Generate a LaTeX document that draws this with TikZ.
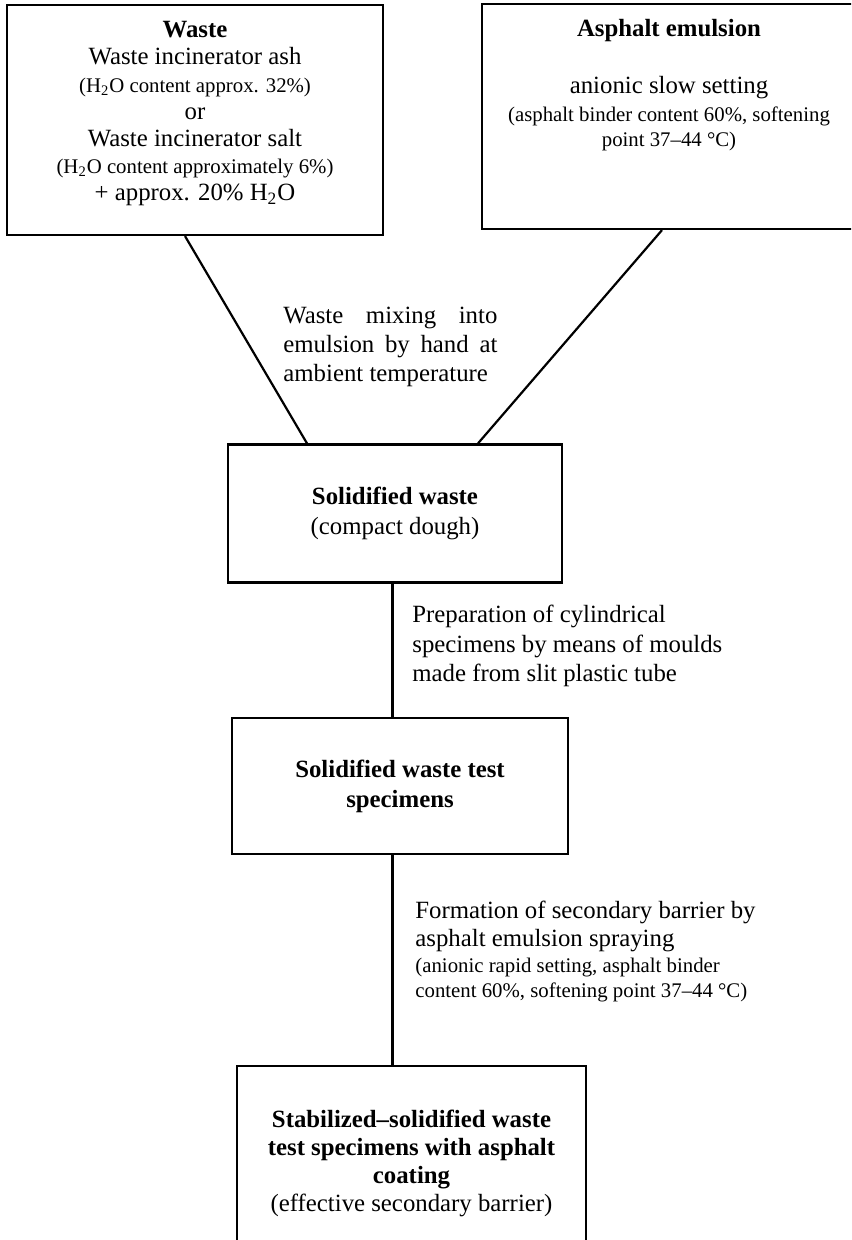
\documentclass[tikz,border=0pt]{standalone}
\usepackage{fontspec}
\setmainfont{Liberation Serif}
\newcommand{\notesize}{\fontsize{10.4pt}{12.5pt}\selectfont}
\newcommand{\water}{H\textsubscript{2}O}

\begin{document}
\begin{tikzpicture}[
    x=0.5pt, y=-0.5pt,
    box/.style={rectangle, draw, line width=1.1pt, inner sep=0pt, align=center},
    boxtext/.style={inner sep=0pt, align=center, anchor=north},
    note/.style={inner sep=0pt, align=left, anchor=north west},
    link/.style={line width=1.1pt}
  ]
  \useasboundingbox (0,0) rectangle (851,1240);
  \clip (0,0) rectangle (851,1240);

  \node[box, minimum width=188pt, minimum height=115pt] (waste) at (195,120) {};
  \node[box, minimum width=187pt, minimum height=112.5pt] (asphalt) at (669,116.5) {};
  \node[box, minimum width=167pt, minimum height=69pt, font={\fontsize{12.4pt}{15pt}\selectfont}] (solid) at (395,513.5)
    {\textbf{Solidified waste}\\(compact dough)};
  \node[box, minimum width=168pt, minimum height=68pt, font={\fontsize{12.4pt}{15pt}\selectfont}] (specimens) at (400,786)
    {\textbf{Solidified waste test}\\\textbf{specimens}};
  \node[box, minimum width=174.5pt, minimum height=97pt, font={\fontsize{12.4pt}{14pt}\selectfont}] (coated) at (411.5,1163)
    {\textbf{Stabilized--solidified waste}\\\textbf{test specimens with asphalt}\\\textbf{coating}\\(effective secondary barrier)};

  \node[boxtext, font={\fontsize{12.4pt}{13.6pt}\selectfont}] (wastetext) at ([yshift=-8.6pt]waste.north)
    {\textbf{Waste}\\Waste incinerator ash\\{\notesize (\water{} content approx. 32\%)}\\or\\Waste incinerator salt\\{\notesize (\water{} content approximately 6\%)}\\+ approx. 20\% \water};
  \node[boxtext, font={\fontsize{12.4pt}{14pt}\selectfont}] (asphalttext) at ([yshift=-7.85pt]asphalt.north)
    {\textbf{Asphalt emulsion}\\[14.5pt]anionic slow setting\\{\notesize (asphalt binder content 60\%, softening}\\[-1.5pt]{\notesize point 37--44 °C)}};

  \draw[link] ([xshift=-5pt]waste.south) -- ([xshift=-44pt]solid.north);
  \draw[link] ([xshift=-3.5pt]asphalt.south) -- ([xshift=41.5pt]solid.north);
  \draw[link] ([xshift=-1.25pt]solid.south) -- ([xshift=-1.25pt]solid.south |- specimens.north);
  \draw[link] ([xshift=-3.75pt]specimens.south) -- ([xshift=-3.75pt]specimens.south |- coated.north);

  \node[note, font={\fontsize{12.4pt}{14.5pt}\selectfont}] (mixing) at (283,307)
    {\makebox[107pt][s]{Waste mixing into}\\\makebox[107pt][s]{emulsion by hand at}\\ambient temperature};
  \node[note, font={\fontsize{12.4pt}{14.75pt}\selectfont}] (moulding) at (412,605)
    {Preparation of cylindrical\\specimens by means of moulds\\made from slit plastic tube};
  \node[note, font={\fontsize{12.4pt}{14pt}\selectfont}] (spraying) at (415,901)
    {Formation of secondary barrier by\\asphalt emulsion spraying\\[-1pt]{\notesize (anionic rapid setting, asphalt binder}\\[-1.5pt]{\notesize content 60\%, softening point 37--44 °C)}};
\end{tikzpicture}
\end{document}
